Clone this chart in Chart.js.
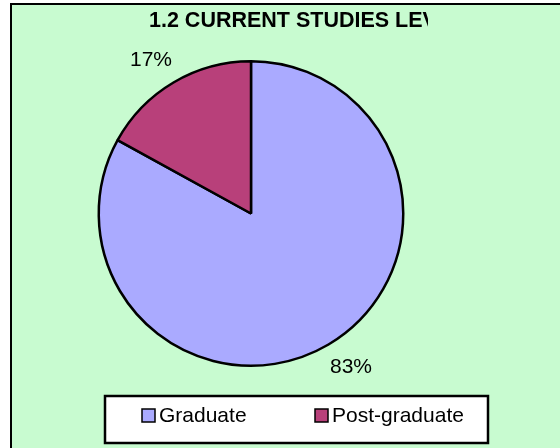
<!DOCTYPE html>
<html>
<head>
<meta charset="utf-8">
<script src="https://cdn.jsdelivr.net/npm/chart.js@4"></script>
<style>
  html, body { margin: 0; padding: 0; background: #ffffff; }
  #wrap { width: 560px; height: 448px; position: relative; }
</style>
</head>
<body>
<div id="wrap"><canvas id="pieChart" width="560" height="448"></canvas></div>
<script>
// Chart data
const categories = ['Graduate', 'Post-graduate'];
const shares = [83, 17];
const sliceColors = ['#aaaaff', '#b8407a'];
const chartTitle = '1.2 CURRENT STUDIES LEVEL';

// Background panel with border (cropped at right / bottom)
const panelPlugin = {
  id: 'panel',
  beforeDraw(chart) {
    const ctx = chart.ctx;
    ctx.save();
    ctx.fillStyle = '#ffffff';
    ctx.fillRect(0, 0, chart.width, chart.height);
    ctx.fillStyle = '#c8fbd0';
    ctx.fillRect(11, 4, chart.width, chart.height);
    ctx.strokeStyle = '#000000';
    ctx.lineWidth = 2;
    ctx.beginPath();
    ctx.moveTo(11, chart.height);
    ctx.lineTo(11, 4);
    ctx.lineTo(chart.width, 4);
    ctx.stroke();
    ctx.restore();
  }
};

// Title, clipped like the original
const titlePlugin = {
  id: 'clippedTitle',
  afterDraw(chart) {
    const ctx = chart.ctx;
    ctx.save();
    ctx.beginPath();
    ctx.rect(0, 0, 428, 50);
    ctx.clip();
    ctx.font = 'bold 21.5px "Liberation Sans", Arial, sans-serif';
    ctx.fillStyle = '#000000';
    ctx.textBaseline = 'alphabetic';
    ctx.textAlign = 'left';
    ctx.fillText(chartTitle, 149, 27);
    ctx.restore();
  }
};

// Percentage labels outside slices
const labelPlugin = {
  id: 'pctLabels',
  afterDatasetsDraw(chart) {
    const ctx = chart.ctx;
    const meta = chart.getDatasetMeta(0);
    ctx.save();
    ctx.font = '21px "Liberation Sans", Arial, sans-serif';
    ctx.fillStyle = '#000000';
    ctx.textAlign = 'center';
    ctx.textBaseline = 'middle';
    meta.data.forEach((arc, i) => {
      const mid = (arc.startAngle + arc.endAngle) / 2;
      const x = arc.x + Math.cos(mid) * arc.outerRadius * 1.29;
      const y = arc.y + Math.sin(mid) * arc.outerRadius * 1.17;
      ctx.fillText(shares[i] + '%', x, y);
    });
    ctx.restore();
  }
};

// Boxed legend at the bottom
const legendPlugin = {
  id: 'boxLegend',
  afterDraw(chart) {
    const ctx = chart.ctx;
    ctx.save();
    ctx.fillStyle = '#ffffff';
    ctx.fillRect(105, 396, 383, 47);
    ctx.strokeStyle = '#000000';
    ctx.lineWidth = 2.5;
    ctx.strokeRect(105, 396, 383, 47);
    const itemX = [142, 315];
    ctx.font = '21px "Liberation Sans", Arial, sans-serif';
    ctx.textBaseline = 'alphabetic';
    ctx.textAlign = 'left';
    categories.forEach((name, i) => {
      ctx.fillStyle = sliceColors[i];
      ctx.fillRect(itemX[i], 409, 13, 13);
      ctx.lineWidth = 1.5;
      ctx.strokeRect(itemX[i], 409, 13, 13);
      ctx.fillStyle = '#000000';
      ctx.fillText(name, itemX[i] + 17, 422);
    });
    ctx.restore();
  }
};

const pieChart = new Chart(document.getElementById('pieChart'), {
  type: 'pie',
  data: {
    labels: categories,
    datasets: [{
      data: shares,
      backgroundColor: sliceColors,
      borderColor: '#000000',
      borderWidth: 2.5
    }]
  },
  options: {
    responsive: false,
    animation: false,
    layout: { padding: { left: 97, right: 155, top: 60, bottom: 81 } },
    plugins: {
      legend: { display: false },
      title: { display: false },
      tooltip: { enabled: false }
    }
  },
  plugins: [panelPlugin, labelPlugin, titlePlugin, legendPlugin]
});
</script>
</body>
</html>
